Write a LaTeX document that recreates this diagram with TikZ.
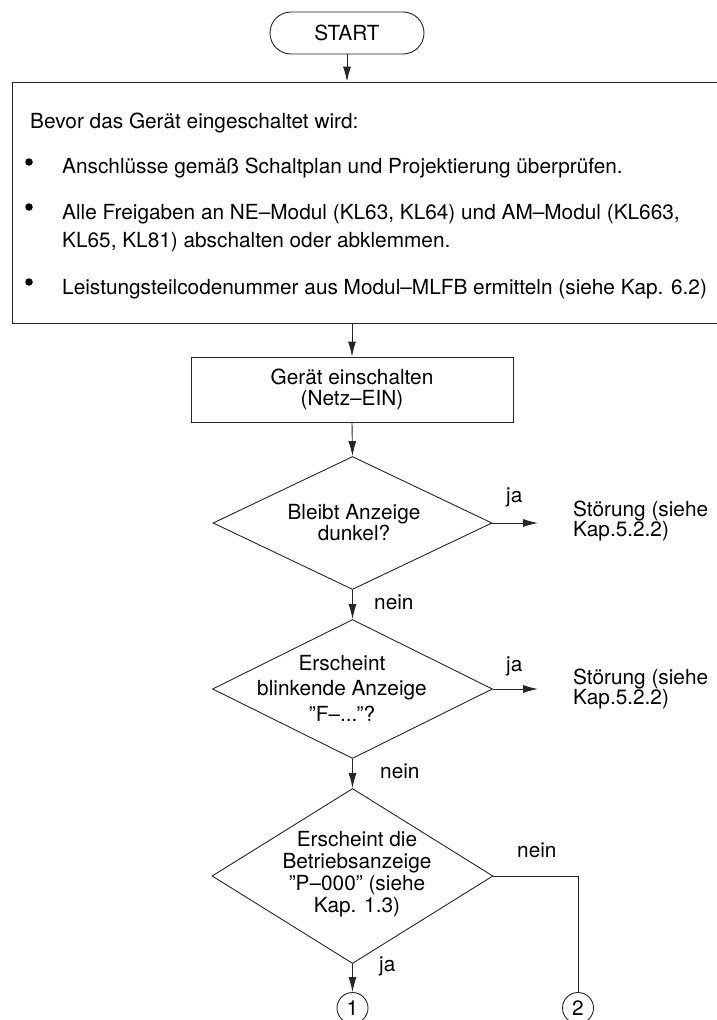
\documentclass[tikz,border=0pt]{standalone}
\usepackage{fontspec}
\setmainfont{TeX Gyre Heros}
\usetikzlibrary{shapes.geometric,arrows.meta}
\begin{document}
\begin{tikzpicture}[x=1pt,y=-1pt,
  every node/.style={font=\fontsize{20.8}{21}\selectfont, inner sep=0pt},
  ln/.style={line width=0.9pt, draw=black!85},
  arr/.style={ln, -{Latex[length=15pt,width=8pt]}},
  term/.style={ln, rounded corners=21pt, minimum width=154pt, minimum height=42pt},
  boxn/.style={ln, rectangle},
  dia/.style={ln, diamond},
  one/.style={text height=15pt, text depth=4.4pt},
  bul/.style={circle, fill=black, minimum size=7.5pt},
  conn/.style={ln, circle, minimum size=31pt}
]
\useasboundingbox (0,0) rectangle (717,1020);

% start
\node[term] (start) at (347,33) {START};

% preparation box (right edge runs off the page)
\node[boxn, minimum width=713pt, minimum height=241pt] (pre) at (368.5,202.5) {};
\node[one, anchor=west] (t0) at (30,123) {Bevor das Gerät eingeschaltet wird:};
\node[bul] (b1) at (29,162) {};
\node[one, anchor=west] (l1) at (62,168) {Anschlüsse gemäß Schaltplan und Projektierung überprüfen.};
\node[bul] (b2) at (29,207) {};
\node[anchor=west, align=left, font=\fontsize{20.8}{28}\selectfont] (l2) at (62,228)
  {Alle Freigaben an NE–Modul (KL63, KL64) und AM–Modul (KL663,\\KL65, KL81) abschalten oder abklemmen.};
\node[bul] (b3) at (29,282) {};
\node[one, anchor=west] (l3) at (62,289) {Leistungsteilcodenummer aus Modul–MLFB ermitteln (siehe Kap. 6.2)};

% power on
\node[boxn, minimum width=322pt, minimum height=65pt, align=center] (on) at (352,389.5)
  {Gerät einschalten\\(Netz–EIN)};

% decisions
\node[dia, minimum width=279pt, minimum height=133pt] (d1) at (352.5,523) {};
\node[align=center] (d1t) at (354,522.5) {Bleibt Anzeige\\dunkel?};
\node[dia, minimum width=280pt, minimum height=139pt] (d2) at (352.5,689) {};
\node[align=center, font=\fontsize{20.8}{25.5}\selectfont] (d2t) at (342,688) {Erscheint\\blinkende Anzeige\\”F–...”?};
\node[dia, minimum width=281pt, minimum height=175pt] (d3) at (352.5,876) {};
\node[align=center, font=\fontsize{20.8}{22}\selectfont] (d3t) at (357,874) {Erscheint die\\Betriebsanzeige\\”P–000” (siehe\\Kap. 1.3)};

% outcomes
\coordinate (e1) at (538,523);
\coordinate (e2) at (538,689);
\node[anchor=west, align=left, font=\fontsize{20.8}{20.5}\selectfont] (s1) at (573,521) {Störung (siehe\\Kap.5.2.2)};
\node[anchor=west, align=left, font=\fontsize{20.8}{20.5}\selectfont] (s2) at (573,689) {Störung (siehe\\Kap.5.2.2)};

% connectors to next page
\node[conn] (c1) at (352.5,1008) {1};
\node[conn] (c2) at (578,1008) {2};

% labels
\node[one, anchor=west] (ja1) at (506,497) {ja};
\node[one, anchor=west] (ne1) at (374,604) {nein};
\node[one, anchor=west] (ja2) at (506,666) {ja};
\node[one, anchor=west] (ne2) at (380,773) {nein};
\node[one, anchor=west] (ne3) at (517,852) {nein};
\node[one, anchor=west] (ja3) at (379,966) {ja};

% arrows
\draw[arr] (start.south) -- (start.south |- pre.north);
\draw[arr] (on.north |- pre.south) -- (on.north);
\draw[arr] (on.south) -- (d1.north);
\draw[arr] (d1.east) -- (e1);
\draw[arr] (d1.south) -- (d2.north);
\draw[arr] (d2.east) -- (e2);
\draw[arr] (d2.south) -- (d3.north);
\draw[arr] (d3.south) -- (c1.north);
\draw[ln] (d3.east) -| (c2.north);
\end{tikzpicture}
\end{document}
